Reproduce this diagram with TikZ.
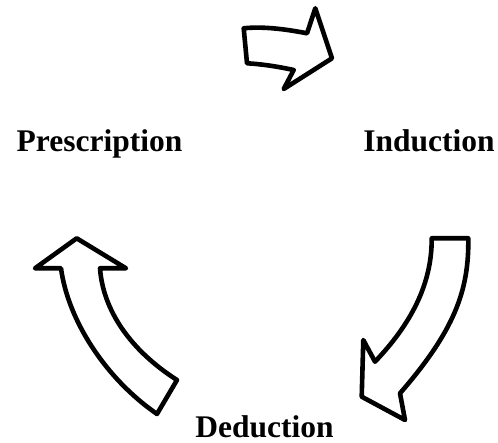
\documentclass[tikz,border=0pt]{standalone}
\usepackage{fontspec}
\setmainfont{Liberation Serif}
\begin{document}
\begin{tikzpicture}[x=1pt,y=-1pt,
  fatarrow/.style={draw=black,fill=white,line width=4.6pt,line join=round},
  label/.style={font=\fontsize{31.5}{36}\selectfont\bfseries,inner sep=0pt,anchor=base}]
\useasboundingbox (0,0) rectangle (498,443);
% top arrow
\draw[fatarrow] (243.7,28.3) .. controls (265,26) and (290,30) .. (307,33.3)
  -- (315.3,8.3) -- (332,58.3) -- (283.7,89) -- (293.7,70)
  .. controls (275,66) and (260,64) .. (247,63.3) -- cycle;
% right arrow (down)
\draw[fatarrow] (431.7,238.3) -- (468.3,238.3)
  .. controls (469,290) and (455,330) .. (400,393.3)
  -- (405,420) -- (361.7,396.7) -- (363.3,340) -- (375,361.7)
  .. controls (410,325) and (432,285) .. cycle;
% left arrow (up)
\draw[fatarrow] (76.7,238.3) -- (126,268.3) -- (100,268.3)
  .. controls (103,310) and (130,350) .. (177,380)
  -- (157,414)
  .. controls (105,378) and (68,320) .. (61,268.3)
  -- (35,268.3) -- cycle;
\node[label] (pres) at (99.5,152) {Prescription};
\node[label] (ind) at (429,152) {Induction};
\node[label] (ded) at (264.5,437) {Deduction};
\end{tikzpicture}
\end{document}
